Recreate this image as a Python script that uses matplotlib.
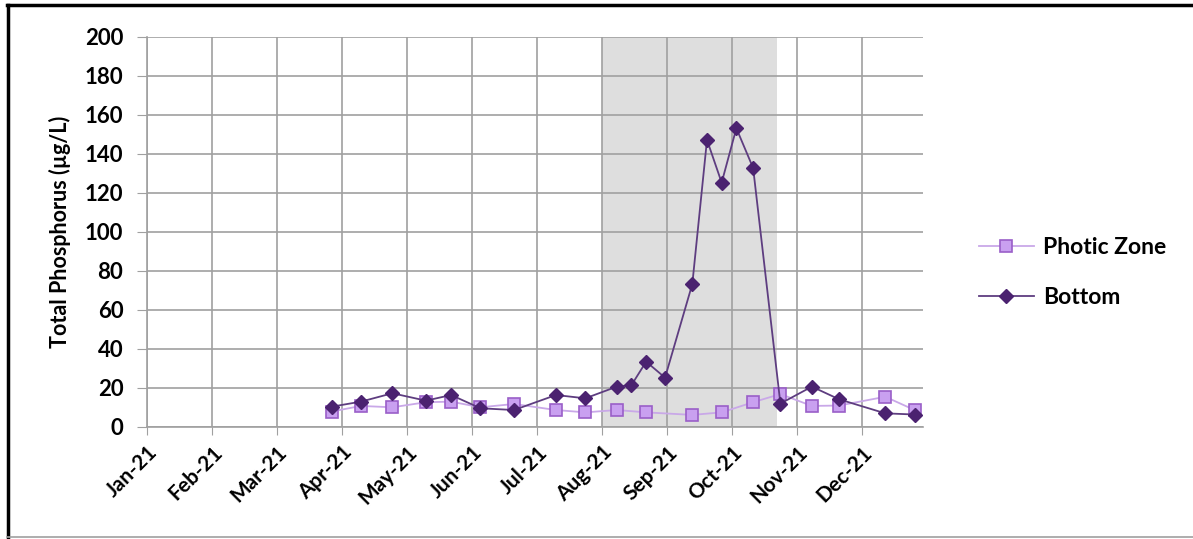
import numpy as np
import pandas as pd
import matplotlib
matplotlib.use("Agg")
import matplotlib.pyplot as plt
from matplotlib.lines import Line2D

# Sample dates and total phosphorus (ug/L)
bottom_dates = ["2021-03-30", "2021-04-13", "2021-04-28", "2021-05-14", "2021-05-26",
                "2021-06-09", "2021-06-25", "2021-07-15", "2021-07-29", "2021-08-13",
                "2021-08-20", "2021-08-27", "2021-09-05", "2021-09-18", "2021-09-25",
                "2021-10-02", "2021-10-09", "2021-10-17", "2021-10-30", "2021-11-14",
                "2021-11-27", "2021-12-19", "2022-01-02"]
bottom_tp = [10.4, 13.0, 17.3, 13.5, 16.4, 9.6, 8.7, 16.4, 14.7, 20.7,
             21.5, 33.5, 25.3, 73.3, 147.2, 125.3, 153.2, 132.8, 12.0, 20.7,
             14.2, 7.0, 6.4]

photic_dates = ["2021-03-30", "2021-04-13", "2021-04-28", "2021-05-14", "2021-05-26",
                "2021-06-09", "2021-06-25", "2021-07-15", "2021-07-29", "2021-08-13",
                "2021-08-27", "2021-09-18", "2021-10-02", "2021-10-17", "2021-10-30",
                "2021-11-14", "2021-11-27", "2021-12-19", "2022-01-02"]
photic_tp = [7.9, 10.8, 10.1, 12.7, 13.0, 10.1, 11.8, 8.7, 7.5, 8.7,
             7.5, 6.2, 7.5, 12.7, 16.9, 10.8, 11.0, 15.5, 8.7]

month_labels = ["Jan-21", "Feb-21", "Mar-21", "Apr-21", "May-21", "Jun-21",
                "Jul-21", "Aug-21", "Sep-21", "Oct-21", "Nov-21", "Dec-21"]

# shaded period (days since 1 Jan 2021)
shade_start, shade_end = 217, 300.3

start = pd.Timestamp("2021-01-01")
bx = (pd.to_datetime(bottom_dates) - start).days.values
px = (pd.to_datetime(photic_dates) - start).days.values

plt.rcParams["font.family"] = ["Lato", "DejaVu Sans"]
plt.rcParams["font.weight"] = "bold"

fig = plt.figure(figsize=(11.93, 5.39), dpi=100)
ax = fig.add_axes([0.1232, 0.2078, 0.7737 - 0.1232, 0.9314 - 0.2078])

ax.axvspan(shade_start, shade_end, color="#DEDEDE", zorder=0, lw=0)

ax.plot(px, photic_tp, color="#C9A8E8", lw=1.3, marker="s", ms=8,
        mfc="#C9A0F0", mec="#9A5FC8", mew=1.2, label="Photic Zone", zorder=3)
ax.plot(bx, bottom_tp, color="#5E3D80", lw=1.3, marker="D", ms=7.5,
        mfc="#4B2270", mec="#4B2270", label="Bottom", zorder=4)

ax.set_xlim(0, 370)
ax.set_ylim(0, 200)
ax.set_xticks(np.arange(len(month_labels)) * 31)
ax.set_xticklabels(month_labels, rotation=45, ha="right", rotation_mode="anchor",
                   fontsize=15, fontweight="bold")
ax.set_yticks(np.arange(0, 201, 20))
ax.tick_params(axis="y", labelsize=16, length=7, color="#A0A0A0", pad=10)
ax.tick_params(axis="x", length=6, color="#A0A0A0", pad=5)
for lab in ax.get_yticklabels():
    lab.set_fontweight("bold")

ax.grid(True, color="#A0A0A0", lw=1.2)
ax.set_axisbelow(True)
for s in ["top", "right"]:
    ax.spines[s].set_visible(False)
for s in ["left", "bottom"]:
    ax.spines[s].set_color("#A0A0A0")
    ax.spines[s].set_linewidth(1.2)

ax.set_ylabel("Total Phosphorus (µg/L)", fontsize=15.5, fontweight="bold", labelpad=10)

ax.legend(loc="center left", bbox_to_anchor=(1.06, 0.396), frameon=False,
          fontsize=16.5, handlelength=2.4, labelspacing=1.25, borderaxespad=0,
          handletextpad=0.4)

# outer frame like the pasted screenshot
fig.add_artist(Line2D([0.0065, 0.0065], [0.004, 0.99], color="black", lw=2.5))
fig.add_artist(Line2D([0.006, 1.0], [0.99, 0.99], color="black", lw=2.5))
fig.add_artist(Line2D([0.006, 1.0], [0.004, 0.004], color="#A0A0A0", lw=1.2))

fig.savefig("out.png", dpi=100)
